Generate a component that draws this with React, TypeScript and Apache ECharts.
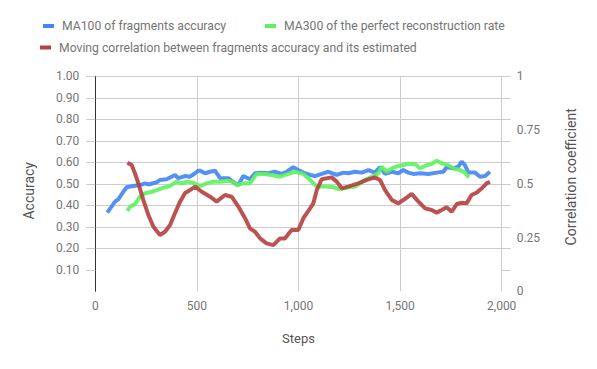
import React, { useEffect, useRef } from "react";
import * as echarts from "echarts";

const accuracySeriesName = "MA100 of fragments accuracy";
const perfectSeriesName = "MA300 of the perfect reconstruction rate";
const corrSeriesName = "Moving correlation between fragments accuracy and its estimated";

const stepTicks = [0, 500, 1000, 1500, 2000];
const accuracyTicks = [0.1, 0.2, 0.3, 0.4, 0.5, 0.6, 0.7, 0.8, 0.9, 1.0];
const corrTicks = [0, 0.25, 0.5, 0.75, 1];

const accuracyData: [number, number][] = [
  [59, 0.366], [97, 0.417], [113, 0.428], [138, 0.463], [154, 0.484], [187, 0.49], [220, 0.494],
  [245, 0.502], [261, 0.497], [302, 0.507], [318, 0.518], [351, 0.521], [392, 0.541], [409, 0.526],
  [441, 0.536], [466, 0.533], [491, 0.549], [507, 0.561], [516, 0.561], [540, 0.549], [565, 0.556],
  [589, 0.561], [614, 0.526], [654, 0.526], [688, 0.502], [704, 0.494], [728, 0.536], [761, 0.521],
  [786, 0.549], [819, 0.552], [851, 0.549], [884, 0.556], [917, 0.546], [942, 0.556], [974, 0.577],
  [999, 0.564], [1024, 0.552], [1057, 0.541], [1081, 0.536], [1114, 0.546], [1147, 0.556],
  [1188, 0.541], [1221, 0.552], [1245, 0.549], [1278, 0.556], [1311, 0.552], [1344, 0.564],
  [1376, 0.552], [1401, 0.577], [1426, 0.546], [1459, 0.556], [1491, 0.549], [1516, 0.564],
  [1540, 0.552], [1565, 0.546], [1598, 0.549], [1639, 0.546], [1680, 0.552], [1713, 0.556],
  [1729, 0.577], [1762, 0.572], [1786, 0.58], [1803, 0.603], [1819, 0.587], [1836, 0.552],
  [1869, 0.552], [1893, 0.533], [1918, 0.536], [1942, 0.556],
];

const perfectData: [number, number][] = [
  [158, 0.373], [171, 0.394], [195, 0.405], [220, 0.44], [245, 0.456], [278, 0.463], [302, 0.471],
  [335, 0.482], [368, 0.49], [400, 0.51], [425, 0.502], [450, 0.51], [482, 0.505], [516, 0.49],
  [548, 0.502], [581, 0.51], [614, 0.51], [647, 0.514], [679, 0.51], [696, 0.494], [728, 0.502],
  [761, 0.502], [794, 0.546], [835, 0.546], [868, 0.541], [909, 0.533], [950, 0.546], [983, 0.556],
  [1024, 0.546], [1057, 0.518], [1090, 0.487], [1130, 0.487], [1171, 0.484], [1204, 0.474],
  [1245, 0.484], [1278, 0.487], [1303, 0.502], [1327, 0.518], [1360, 0.533], [1393, 0.549],
  [1409, 0.58], [1434, 0.556], [1459, 0.572], [1491, 0.583], [1516, 0.587], [1540, 0.592],
  [1573, 0.592], [1598, 0.572], [1631, 0.587], [1655, 0.592], [1680, 0.607], [1705, 0.595],
  [1737, 0.587], [1762, 0.572], [1795, 0.564], [1819, 0.552], [1839, 0.53],
];

const corrData: [number, number][] = [
  [158, 0.598], [179, 0.587], [195, 0.549], [212, 0.502], [236, 0.425], [261, 0.355], [286, 0.3],
  [318, 0.262], [343, 0.277], [368, 0.308], [392, 0.363], [417, 0.417], [441, 0.456], [466, 0.471],
  [491, 0.487], [524, 0.463], [565, 0.44], [597, 0.417], [638, 0.448], [671, 0.44], [704, 0.394],
  [737, 0.34], [761, 0.293], [786, 0.277], [811, 0.246], [843, 0.223], [876, 0.215], [909, 0.246],
  [933, 0.246], [966, 0.285], [999, 0.285], [1024, 0.34], [1057, 0.386], [1073, 0.409],
  [1090, 0.471], [1114, 0.521], [1163, 0.53], [1188, 0.51], [1213, 0.479], [1245, 0.487],
  [1294, 0.502], [1336, 0.518], [1376, 0.53], [1401, 0.518], [1426, 0.471], [1459, 0.425],
  [1491, 0.409], [1521, 0.428], [1557, 0.453], [1590, 0.417], [1623, 0.386], [1655, 0.378],
  [1680, 0.366], [1705, 0.378], [1729, 0.391], [1754, 0.37], [1779, 0.406], [1803, 0.412],
  [1827, 0.409], [1852, 0.448], [1877, 0.459], [1902, 0.479], [1926, 0.502], [1942, 0.51],
];

const FONT = "Roboto";
const LABEL = "#757575";
const TITLE = "#555555";
const GRID = "#cccccc";

export default function App() {
  const ref = useRef<HTMLDivElement>(null);
  useEffect(() => {
    if (!ref.current) return;
    const chart = echarts.init(ref.current, undefined, { renderer: "svg" });
    const legendText = { color: LABEL, fontFamily: FONT, fontSize: 12.2, padding: [0, 0, 0, 3] };
    const legendCommon = {
      orient: "horizontal" as const,
      icon: "rect",
      itemWidth: 11,
      itemHeight: 4,
      textStyle: legendText,
      selectedMode: false,
      padding: 0,
    };
    chart.setOption({
      animation: false,
      backgroundColor: "#ffffff",
      textStyle: { fontFamily: FONT },
      legend: [
        { ...legendCommon, data: [accuracySeriesName], left: 43, top: 20 },
        { ...legendCommon, data: [perfectSeriesName], left: 265, top: 20 },
        { ...legendCommon, data: [corrSeriesName], left: 40, top: 41.5 },
      ],
      grid: { left: 95.3, right: 95.3, top: 76.3, bottom: 77.7, containLabel: false },
      xAxis: {
        type: "value",
        min: stepTicks[0],
        max: stepTicks[stepTicks.length - 1],
        interval: 500,
        name: "Steps",
        nameLocation: "middle",
        nameGap: 41,
        nameTextStyle: { color: TITLE, fontFamily: FONT, fontSize: 13 },
        axisLine: { show: false },
        axisTick: { show: false },
        axisLabel: {
          color: LABEL,
          fontFamily: FONT,
          fontSize: 12,
          margin: 9,
          formatter: (v: number) => v.toLocaleString("en-US"),
        },
        splitLine: { show: true, showMinLine: false, lineStyle: { color: GRID, width: 1 } },
      },
      yAxis: [
        {
          type: "value",
          position: "left",
          min: 0,
          max: 1,
          interval: 0.1,
          name: "Accuracy",
          nameLocation: "middle",
          nameGap: 59,
          nameTextStyle: { color: TITLE, fontFamily: FONT, fontSize: 14, padding: [0, 14, 0, 0] },
          axisLine: { show: true, lineStyle: { color: "#333333", width: 1 } },
          axisTick: { show: true, length: 9, customValues: accuracyTicks, lineStyle: { color: GRID } },
          axisLabel: {
            color: LABEL,
            fontFamily: FONT,
            fontSize: 12,
            margin: 16,
            customValues: accuracyTicks,
            formatter: (v: number) => v.toFixed(2),
          },
          splitLine: { show: true, showMinLine: false, lineStyle: { color: GRID, width: 1 } },
        },
        {
          type: "value",
          position: "right",
          min: 0,
          max: 1,
          interval: 0.25,
          name: "Correlation coefficient",
          nameLocation: "middle",
          nameGap: 62,
          nameTextStyle: { color: TITLE, fontFamily: FONT, fontSize: 14, padding: [0, 0, 0, 14] },
          axisLine: { show: false },
          axisTick: { show: false },
          axisLabel: {
            color: LABEL,
            fontFamily: FONT,
            fontSize: 12,
            margin: 15,
            customValues: corrTicks,
            formatter: (v: number) => String(v),
          },
          splitLine: { show: false },
        },
        {
          type: "value",
          position: "right",
          min: 0,
          max: 1,
          interval: 0.1,
          axisLine: { show: false },
          axisTick: { show: true, length: 9, customValues: accuracyTicks, lineStyle: { color: GRID } },
          axisLabel: { show: false },
          splitLine: { show: false },
        },
      ],
      series: [
        {
          name: accuracySeriesName,
          type: "line",
          yAxisIndex: 0,
          data: accuracyData,
          showSymbol: false,
          symbol: "none",
          color: "#4285f4",
          lineStyle: { width: 4, color: "#4285f4", opacity: 0.9 },
        },
        {
          name: perfectSeriesName,
          type: "line",
          yAxisIndex: 0,
          data: perfectData,
          showSymbol: false,
          symbol: "none",
          color: "#5ef25e",
          lineStyle: { width: 4, color: "#5ef25e", opacity: 0.9 },
        },
        {
          name: corrSeriesName,
          type: "line",
          yAxisIndex: 1,
          data: corrData,
          showSymbol: false,
          symbol: "none",
          color: "#b5403f",
          lineStyle: { width: 4, color: "#b5403f", opacity: 0.9 },
        },
      ],
    });
    return () => chart.dispose();
  }, []);
  return (
    <div
      ref={ref}
      style={{ position: "fixed", left: 0, top: 0, width: 597, height: 369, background: "#fff" }}
    />
  );
}
